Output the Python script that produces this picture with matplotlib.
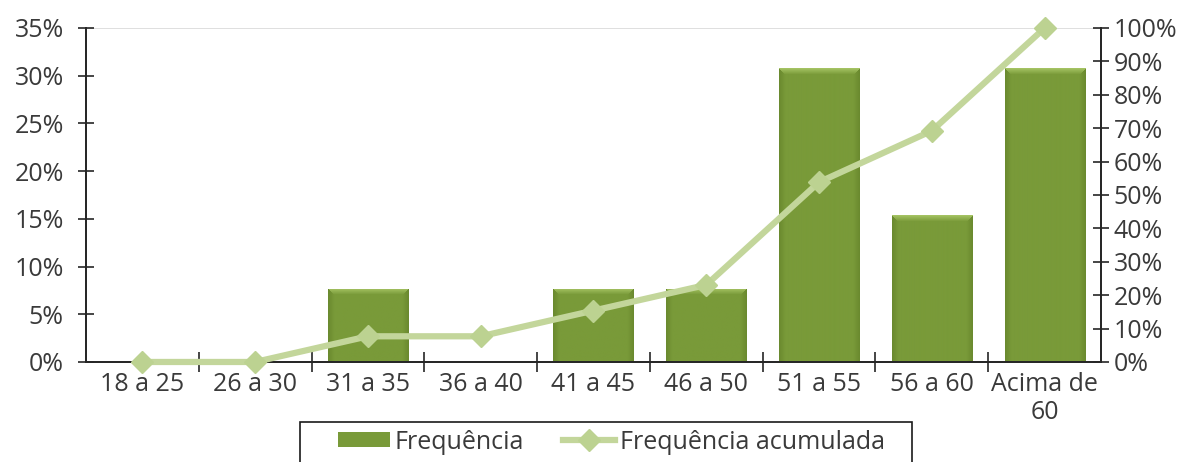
import matplotlib.pyplot as plt
import numpy as np
from matplotlib.colors import to_rgb
from matplotlib.patches import Rectangle
from matplotlib.ticker import FixedLocator, PercentFormatter

plt.rcParams["font.family"] = ["Open Sans", "DejaVu Sans"]
plt.rcParams["font.size"] = 18

CATEGORIES = ["18 a 25", "26 a 30", "31 a 35", "36 a 40", "41 a 45",
              "46 a 50", "51 a 55", "56 a 60", "Acima de\n60"]
FREQUENCIA = [0.0, 0.0, 7.69, 0.0, 7.69, 7.69, 30.77, 15.38, 30.77]
ACUMULADA = [0.0, 0.0, 7.69, 7.69, 15.38, 23.08, 53.85, 69.23, 100.0]

BAR_COLOR = "#799a39"
BAR_LIGHT = "#a9c767"
BAR_DARK = "#5f7d27"
LINE_COLOR = "#c3d69b"
MARKER_COLOR = "#bcd291"
AXIS_COLOR = "#262626"
TEXT_COLOR = "#3a3a3a"


def bevel_image(px_w, px_h, bevel=6):
    """RGB array for a bar face with a lighter top bevel and darker sides."""
    base = np.array(to_rgb(BAR_COLOR))
    light = np.array(to_rgb(BAR_LIGHT))
    dark = np.array(to_rgb(BAR_DARK))
    img = np.tile(base, (px_h, px_w, 1))
    yy, xx = np.mgrid[0:px_h, 0:px_w]
    side = np.minimum(xx, px_w - 1 - xx)
    top = yy
    on_side = (side < bevel) & (side < top)
    on_top = (top < bevel) & (top <= side)
    f_side = (1 - side / bevel)[..., None] * 0.55
    f_top = (1 - top / bevel)[..., None] * 0.9
    img = np.where(on_side[..., None], base * (1 - f_side) + dark * f_side, img)
    img = np.where(on_top[..., None], base * (1 - f_top) + light * f_top, img)
    return img


fig = plt.figure(figsize=(11.92, 4.62), dpi=100)
ax = fig.add_axes([0.0721, 0.2165, 0.8516, 0.7229])
ax2 = ax.twinx()

x = np.arange(len(CATEGORIES))
bars = ax.bar(x, FREQUENCIA, width=0.71, color=BAR_COLOR, edgecolor="none",
              label="Frequência", zorder=2)

ax.set_xlim(-0.5, len(CATEGORIES) - 0.5)
ax.set_ylim(0, 35)
ax2.set_ylim(0, 100)

# shaded face for each bar, clipped to the bar rectangle
fig.canvas.draw()
px_per_x = ax.bbox.width / (ax.get_xlim()[1] - ax.get_xlim()[0])
px_per_y = ax.bbox.height / (ax.get_ylim()[1] - ax.get_ylim()[0])
for rect in bars:
    h = rect.get_height()
    if h <= 0:
        continue
    x0, w = rect.get_x(), rect.get_width()
    img = bevel_image(int(round(w * px_per_x)), int(round(h * px_per_y)))
    im = ax.imshow(img, extent=(x0, x0 + w, 0, h), aspect="auto",
                   origin="upper", zorder=2.1, interpolation="bilinear")
    im.set_clip_path(rect)

ax2.plot(x, ACUMULADA, color=LINE_COLOR, linewidth=4.5, marker="D", markersize=11,
         markerfacecolor=MARKER_COLOR, markeredgecolor=MARKER_COLOR,
         label="Frequência acumulada", clip_on=False, zorder=3)

ax.set_xlim(-0.5, len(CATEGORIES) - 0.5)
ax.set_ylim(0, 35)
ax.axhline(35, color="#d9d9d9", linewidth=1.2, zorder=1)

ax.yaxis.set_major_locator(FixedLocator(np.arange(0, 36, 5)))
ax2.yaxis.set_major_locator(FixedLocator(np.arange(0, 101, 10)))
ax.yaxis.set_major_formatter(PercentFormatter(decimals=0))
ax2.yaxis.set_major_formatter(PercentFormatter(decimals=0))

ax.set_xticks(x)
ax.set_xticklabels(CATEGORIES, linespacing=1.15)
ax.set_xticks(np.arange(0.5, len(CATEGORIES) - 1, 1.0), minor=True)
ax.tick_params(axis="x", which="major", length=0, pad=7, colors=TEXT_COLOR)
ax.tick_params(axis="x", which="minor", direction="inout", length=14,
               width=1.2, color=AXIS_COLOR)
ax.tick_params(axis="y", direction="inout", length=12, width=1.2,
               color=AXIS_COLOR, labelcolor=TEXT_COLOR, pad=10)
ax2.tick_params(axis="y", direction="inout", length=12, width=1.2,
                color=AXIS_COLOR, labelcolor=TEXT_COLOR, pad=3)

for a in (ax, ax2):
    a.spines["top"].set_visible(False)
    for side in ("left", "right", "bottom"):
        a.spines[side].set_color(AXIS_COLOR)
        a.spines[side].set_linewidth(1.3)

h1, l1 = ax.get_legend_handles_labels()
h2, l2 = ax2.get_legend_handles_labels()
leg = fig.legend(h1 + h2, l1 + l2, loc="center", ncol=2,
                 bbox_to_anchor=(0.513, 0.043), frameon=False,
                 handlelength=2.08, handleheight=0.56, handletextpad=0.2,
                 columnspacing=1.56, borderpad=0, borderaxespad=0, fontsize=18)
for t in leg.get_texts():
    t.set_color(TEXT_COLOR)

# legend box runs off the bottom edge of the figure
fig.patches.append(Rectangle((0.2517, -0.05), 0.5134, 0.1366,
                             transform=fig.transFigure, fill=False,
                             edgecolor="#1a1a1a", linewidth=1.2))

fig.savefig("out.png", dpi=100)
